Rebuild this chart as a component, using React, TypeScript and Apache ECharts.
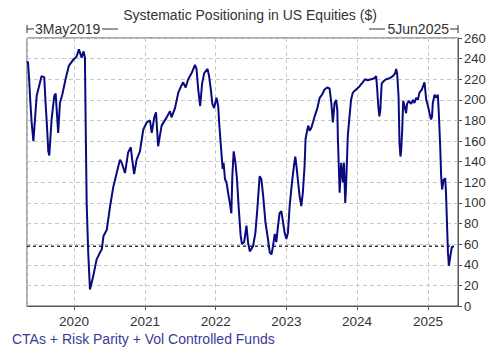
import React, { useEffect, useRef } from "react";
import * as echarts from "echarts";

const TITLE = "Systematic Positioning in US Equities ($)";
const FOOTER = "CTAs + Risk Parity + Vol Controlled Funds";
const RANGE_START_LABEL = "3May2019";
const RANGE_END_LABEL = "5Jun2025";
const X_MIN = "2019-05-03";
const X_MAX = "2025-06-05";
const Y_MIN = 0;
const Y_MAX = 260;
const Y_STEP = 20;
const REFERENCE_LEVEL = 58;

const dates: string[] = [
  "2019-05-03","2019-05-08","2019-05-14","2019-05-19","2019-05-27","2019-06-05","2019-06-22","2019-06-30","2019-07-17","2019-07-31",
  "2019-08-07","2019-08-14","2019-08-21","2019-08-26","2019-09-07","2019-09-21","2019-09-28","2019-10-11","2019-10-20","2019-11-01",
  "2019-11-18","2019-12-05","2019-12-28","2020-01-14","2020-01-26","2020-02-09","2020-02-19","2020-02-26","2020-03-01","2020-03-06",
  "2020-03-14","2020-03-23","2020-04-09","2020-04-26","2020-05-14","2020-05-23","2020-06-01","2020-06-18","2020-07-05","2020-07-22",
  "2020-08-08","2020-08-25","2020-09-03","2020-09-20","2020-10-06","2020-10-20","2020-10-27","2020-11-06","2020-11-19","2020-12-06",
  "2020-12-23","2021-01-10","2021-01-27","2021-02-05","2021-02-18","2021-02-27","2021-03-10","2021-03-19","2021-03-28","2021-04-23",
  "2021-05-10","2021-05-18","2021-06-05","2021-06-22","2021-07-06","2021-07-17","2021-07-30","2021-08-12","2021-08-30","2021-09-16",
  "2021-09-24","2021-10-03","2021-10-13","2021-10-23","2021-11-03","2021-11-20","2021-11-28","2021-12-07","2021-12-15","2021-12-24",
  "2022-01-05","2022-01-14","2022-01-19","2022-01-28","2022-02-06","2022-02-11","2022-02-18","2022-02-26","2022-03-06","2022-03-15",
  "2022-03-23","2022-03-28","2022-04-04","2022-04-13","2022-04-21","2022-04-30","2022-05-10","2022-05-17","2022-05-28","2022-06-09",
  "2022-06-17","2022-06-26","2022-07-13","2022-07-25","2022-08-04","2022-08-16","2022-08-25","2022-09-03","2022-09-15","2022-09-28",
  "2022-10-07","2022-10-16","2022-10-24","2022-11-02","2022-11-10","2022-11-19","2022-11-27","2022-12-06","2022-12-15","2022-12-23",
  "2023-01-01","2023-01-09","2023-01-18","2023-01-30","2023-02-09","2023-02-16","2023-02-22","2023-03-01","2023-03-10","2023-03-19",
  "2023-03-27","2023-04-05","2023-04-10","2023-04-19","2023-04-24","2023-05-01","2023-05-10","2023-05-18","2023-05-27","2023-06-10",
  "2023-06-22","2023-07-04","2023-07-17","2023-07-31","2023-08-12","2023-08-21","2023-08-29","2023-09-07","2023-09-15","2023-09-21",
  "2023-09-24","2023-10-03","2023-10-11","2023-10-20","2023-10-25","2023-11-01","2023-11-06","2023-11-14","2023-11-23","2023-12-01",
  "2023-12-10","2023-12-27","2024-01-13","2024-01-30","2024-02-11","2024-02-25","2024-03-13","2024-03-31","2024-04-08","2024-04-13",
  "2024-04-19","2024-04-25","2024-04-30","2024-05-07","2024-05-17","2024-05-30","2024-06-17","2024-07-04","2024-07-16","2024-07-21",
  "2024-07-26","2024-08-02","2024-08-07","2024-08-12","2024-08-16","2024-08-21","2024-08-26","2024-09-02","2024-09-10","2024-09-15",
  "2024-09-24","2024-10-06","2024-10-15","2024-10-23","2024-11-01","2024-11-10","2024-11-18","2024-11-30","2024-12-14","2024-12-23",
  "2025-01-01","2025-01-09","2025-01-17","2025-01-22","2025-01-26","2025-02-04","2025-02-12","2025-02-21","2025-02-26","2025-03-05",
  "2025-03-10","2025-03-15","2025-03-22","2025-03-31","2025-04-04","2025-04-09","2025-04-14","2025-04-19","2025-04-26","2025-05-04",
  "2025-05-14"
];

const positioning: number[] = [
  236,237,220,202,178,160,204,210,223,222,
  197,175,150,146,181,204,206,168,197,205,
  220,233,239,242,249,241,247,241,175,100,
  52,16,29,45,52,55,68,74,97,116,
  129,142,139,129,149,154,142,128,142,150,
  171,178,180,168,183,188,155,165,175,183,
  189,183,192,207,213,217,212,220,226,234,
  230,210,194,216,226,230,223,210,196,192,
  202,194,178,155,133,139,123,120,110,100,
  90,126,150,139,123,95,68,60,62,78,
  62,53,58,71,94,126,123,107,81,65,
  52,50,58,70,62,78,90,92,81,71,
  65,71,97,120,136,145,136,123,107,97,
  110,136,162,171,175,170,173,178,184,192,
  202,205,210,212,211,197,178,197,200,190,
  162,110,139,120,139,100,120,165,184,200,
  207,210,213,217,220,219,220,221,223,213,
  195,184,190,216,218,220,221,223,226,230,
  225,204,158,145,152,171,199,194,187,196,
  199,196,200,197,202,200,207,210,217,200,
  194,187,181,184,197,205,202,205,187,155,
  126,113,122,124,110,81,52,39,48,57,
  58
];

const FONT = "'Liberation Sans', Arial, Helvetica, sans-serif";

export default function App() {
  const ref = useRef<HTMLDivElement>(null);

  useEffect(() => {
    document.body.style.margin = "0";
    if (!ref.current) return;
    const chart = echarts.init(ref.current, undefined, { renderer: "svg" });
    const seriesData = dates.map((d, i) => [d, positioning[i]]);
    const lastDate = dates[dates.length - 1];

    chart.setOption({
      animation: false,
      backgroundColor: "#ffffff",
      textStyle: { fontFamily: FONT },
      title: {
        text: TITLE,
        left: "center",
        top: 3,
        textStyle: { fontSize: 14, fontWeight: "normal", color: "#333", fontFamily: FONT },
      },
      grid: {
        left: 27,
        right: 42,
        top: 38,
        bottom: 41,
        show: true,
        borderColor: "#555",
        borderWidth: 1,
        backgroundColor: "transparent",
      },
      xAxis: {
        type: "time",
        min: X_MIN,
        max: X_MAX,
        minInterval: 365 * 24 * 3600 * 1000,
        maxInterval: 366 * 24 * 3600 * 1000,
        axisLine: { show: true, lineStyle: { color: "#555", width: 1 } },
        axisTick: { show: true, length: 4, lineStyle: { color: "#555" } },
        axisLabel: {
          color: "#333",
          fontSize: 13.5,
          fontFamily: FONT,
          margin: 8,
          showMinLabel: false,
          showMaxLabel: false,
          formatter: (v: number) => String(new Date(v).getFullYear()),
        },
        splitLine: { show: true, lineStyle: { color: "#c8c8c8", type: [4, 3], width: 1 } },
        minorTick: { show: false },
      },
      yAxis: {
        type: "value",
        position: "right",
        min: Y_MIN,
        max: Y_MAX,
        interval: Y_STEP,
        axisLine: { show: true, lineStyle: { color: "#555", width: 1 } },
        axisTick: { show: true, length: 4, lineStyle: { color: "#555" } },
        axisLabel: { color: "#333", fontSize: 13, fontFamily: FONT, margin: 6 },
        splitLine: { show: true, lineStyle: { color: "#c8c8c8", type: [4, 3], width: 1 } },
      },
      series: [
        {
          type: "line",
          data: [[X_MIN, REFERENCE_LEVEL], [lastDate, REFERENCE_LEVEL]],
          showSymbol: false,
          lineStyle: { color: "#333", width: 1.5, type: [3, 3] },
          z: 2,
          silent: true,
        },
        {
          type: "line",
          data: seriesData,
          showSymbol: false,
          lineStyle: { color: "#0a0a80", width: 2 },
          z: 3,
        },
      ],
      graphic: [
        { type: "line", shape: { x1: 27, y1: 25, x2: 27, y2: 33 }, style: { stroke: "#333", lineWidth: 1 } },
        { type: "line", shape: { x1: 27, y1: 29, x2: 34, y2: 29 }, style: { stroke: "#333", lineWidth: 1 } },
        {
          type: "text",
          x: 35,
          y: 29,
          style: { text: RANGE_START_LABEL, fill: "#333", fontSize: 14, fontFamily: FONT, verticalAlign: "middle", align: "left" },
        },
        { type: "line", shape: { x1: 102, y1: 29, x2: 118, y2: 29 }, style: { stroke: "#333", lineWidth: 1 } },
        { type: "line", shape: { x1: 369, y1: 29, x2: 385, y2: 29 }, style: { stroke: "#333", lineWidth: 1 } },
        {
          type: "text",
          x: 449,
          y: 29,
          style: { text: RANGE_END_LABEL, fill: "#333", fontSize: 14, fontFamily: FONT, verticalAlign: "middle", align: "right" },
        },
        { type: "line", shape: { x1: 450, y1: 29, x2: 458, y2: 29 }, style: { stroke: "#333", lineWidth: 1 } },
        { type: "line", shape: { x1: 458, y1: 25, x2: 458, y2: 33 }, style: { stroke: "#333", lineWidth: 1 } },
        {
          type: "text",
          x: 12,
          y: 339,
          style: { text: FOOTER, fill: "#3b3b98", fontSize: 14, fontFamily: FONT, verticalAlign: "middle", align: "left" },
        },
      ],
    });

    return () => chart.dispose();
  }, []);

  return <div ref={ref} style={{ width: 500, height: 347 }} />;
}
